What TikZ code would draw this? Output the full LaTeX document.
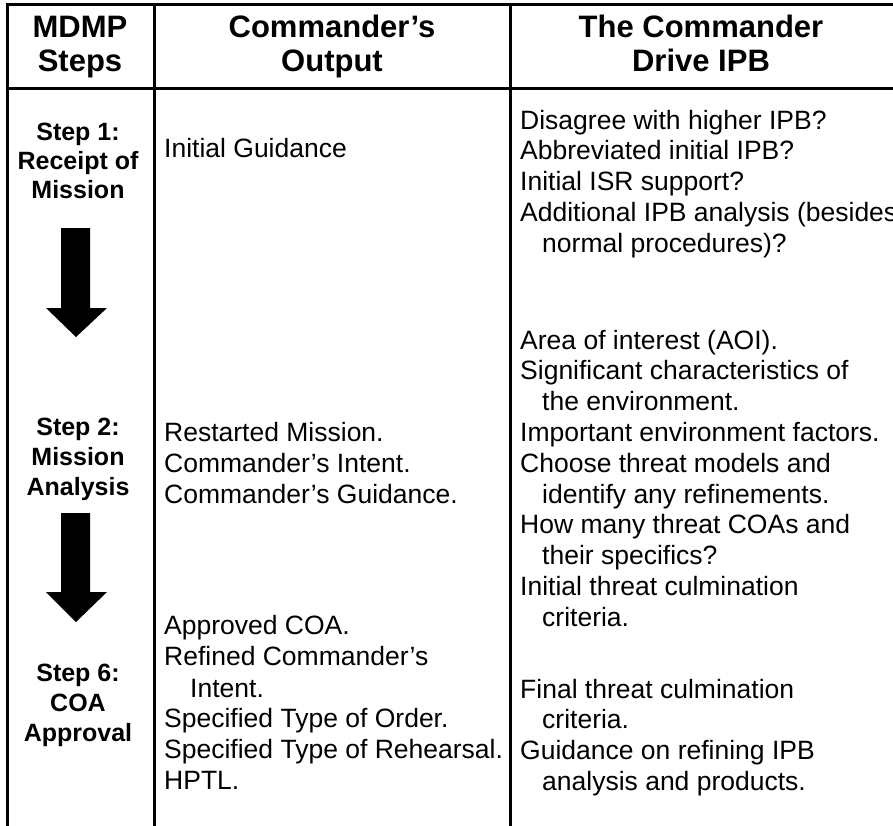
\documentclass[tikz,border=0pt]{standalone}
\usepackage{fontspec}
\setmainfont{Liberation Sans}
\begin{document}
\begin{tikzpicture}[x=1pt,y=-1pt,
  rule/.style={line width=3pt, line cap=rect},
  body/.style={font=\fontsize{26.5}{30}\selectfont, inner sep=0pt, anchor=base west},
  stepf/.style={font=\bfseries\fontsize{25}{29}\selectfont, inner sep=0pt, anchor=base},
  headf/.style={font=\bfseries\fontsize{31}{34}\selectfont, inner sep=0pt, anchor=base},
  blockarrow/.style={fill=black, draw=none}]
\clip (0,0) rectangle (893,825);
\fill[white] (0,0) rectangle (893,825);
% table rules
\draw[rule] (7,4) -- (895,4);
\draw[rule] (7,88) -- (895,88);
\draw[rule] (7,4) -- (7,830);
\draw[rule] (154,4) -- (154,830);
\draw[rule] (510,4) -- (510,830);
% headers
\node[headf] (h1a) at (80,37) {MDMP};
\node[headf] (h1b) at (80,71) {Steps};
\node[headf] (h2a) at (332,37) {Commander’s};
\node[headf] (h2b) at (332,71) {Output};
\node[headf] (h3a) at (701,37) {The Commander};
\node[headf] (h3b) at (701,71) {Drive IPB};
% step column
\node[stepf] (s1a) at (78,140) {Step 1:};
\node[stepf] (s1b) at (78,169) {Receipt of};
\node[stepf] (s1c) at (78,198) {Mission};
\node[stepf] (s2a) at (78,435) {Step 2:};
\node[stepf] (s2b) at (78,465) {Mission};
\node[stepf] (s2c) at (78,495) {Analysis};
\node[stepf] (s6a) at (78,681) {Step 6:};
\node[stepf] (s6b) at (78,711) {COA};
\node[stepf] (s6c) at (78,741) {Approval};
% block arrows
\fill[blockarrow] (61,228) -- (90,228) -- (90,308) -- (107,308) -- (76,337) -- (46,308) -- (61,308) -- cycle;
\fill[blockarrow] (61,513) -- (90,513) -- (90,592) -- (107,592) -- (76,622) -- (46,592) -- (61,592) -- cycle;
% commander's output column
\node[body] (o1) at (164,157) {Initial Guidance};
\node[body] (o2) at (164,441) {Restarted Mission.};
\node[body] (o3) at (164,472) {Commander’s Intent.};
\node[body] (o4) at (164,503) {Commander’s Guidance.};
\node[body] (o5) at (164,634) {Approved COA.};
\node[body] (o6) at (164,665) {Refined Commander’s};
\node[body] (o7) at (190,697) {Intent.};
\node[body] (o8) at (164,727) {Specified Type of Order.};
\node[body] (o9) at (164,758) {Specified Type of Rehearsal.};
\node[body] (o10) at (164,789) {HPTL.};
% drive IPB column
\node[body] (d1) at (520,129) {Disagree with higher IPB?};
\node[body] (d2) at (520,159.8) {Abbreviated initial IPB?};
\node[body] (d3) at (520,190.6) {Initial ISR support?};
\node[body] (d4) at (520,221.4) {Additional IPB analysis (besides};
\node[body] (d5) at (542,252.2) {normal procedures)?};
\node[body] (d6) at (520,349) {Area of interest (AOI).};
\node[body] (d7) at (520,379.8) {Significant characteristics of};
\node[body] (d8) at (542,410.6) {the environment.};
\node[body] (d9) at (520,441.4) {Important environment factors.};
\node[body] (d10) at (520,472.2) {Choose threat models and};
\node[body] (d11) at (542,503) {identify any refinements.};
\node[body] (d12) at (520,533.8) {How many threat COAs and};
\node[body] (d13) at (542,564.6) {their specifics?};
\node[body] (d14) at (520,595.4) {Initial threat culmination};
\node[body] (d15) at (542,626.2) {criteria.};
\node[body] (d16) at (520,698) {Final threat culmination};
\node[body] (d17) at (542,728.8) {criteria.};
\node[body] (d18) at (520,759.6) {Guidance on refining IPB};
\node[body] (d19) at (542,790.4) {analysis and products.};
\end{tikzpicture}
\end{document}
